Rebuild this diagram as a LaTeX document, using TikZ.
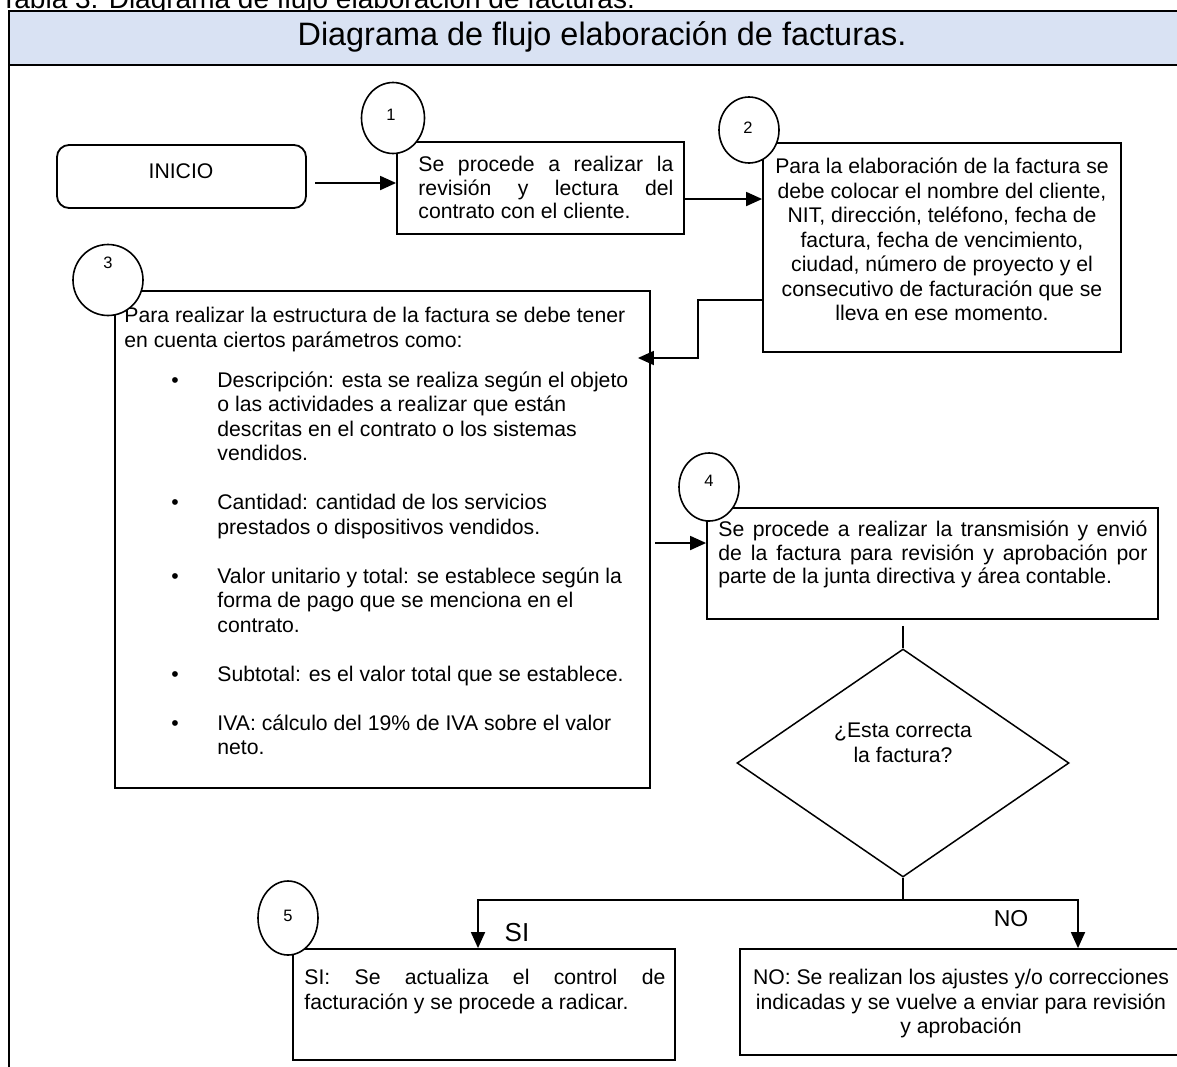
\documentclass[tikz,border=0pt]{standalone}
\usepackage{fontspec}
\setmainfont{Liberation Sans}
\usetikzlibrary{arrows.meta,shapes.geometric,calc,fit}

\newcommand\bodyfont{\fontsize{10.6}{12.25}\selectfont}
\newcommand\tightfont{\fontsize{10.6}{11.75}\selectfont}
\newcommand\jline[2]{\makebox[#1][s]{#2}}
\newcommand\itm{\hspace*{23.5pt}\makebox[23pt][l]{\textbullet}}
\newcommand\cont{\hspace*{46.5pt}}

\definecolor{headblue}{RGB}{217,226,243}

\begin{document}
\begin{tikzpicture}[x=0.5pt, y=-0.5pt,
  box/.style={draw, line width=0.9pt, inner sep=0pt},
  numcirc/.style={draw, ellipse, fill=white, line width=0.8pt, inner sep=0pt},
  numtxt/.style={inner sep=0pt, font=\fontsize{8.25}{10}\selectfont},
  arr/.style={line width=0.9pt, -{Triangle[length=8pt,width=7pt]}},
  conn/.style={line width=0.9pt},
  txt/.style={inner sep=0pt, anchor=north west, align=left, font=\bodyfont},
  ctxt/.style={inner sep=0pt, anchor=north, align=center, font=\bodyfont},
  frame/.style={line width=1.3pt}
]
\useasboundingbox (0,0) rectangle (1177,1066);
\clip (0,0) rectangle (1177,1066);

% caption and title band
\node[inner sep=0pt, anchor=base west, font=\fontsize{14}{16}\selectfont] (caption) at (0,8) {Tabla 3. Diagrama de flujo elaboración de facturas.};
\fill[headblue] (9,11) rectangle (1195,65);
\draw[frame] (9,1080) -- (9,11) -- (1195,11) -- (1195,1080);
\draw[frame] (9,65) -- (1195,65);
\node[inner sep=0pt, anchor=base, font=\fontsize{16.2}{19}\selectfont] (title) at (602,45) {Diagrama de flujo elaboración de facturas.};

% process boxes
\node[box, rounded corners=6pt, fit={(57,145) (306,208)}] (inicio) {};
\node[inner sep=0pt, font=\bodyfont] (tinicio) at (181,171) {INICIO};

\node[box, fit={(397,142) (684,234)}] (b1) {};
\node[txt, font=\tightfont] (t1) at (418,155) {\strut\jline{127.5pt}{Se procede a realizar la}\\
\jline{127.5pt}{revisión y lectura del}\\
contrato con el cliente.};

\node[box, fit={(763,143) (1121,352)}] (b2) {};
\node[ctxt] (t2) at (942,156) {\strut Para la elaboración de la factura se\\
debe colocar el nombre del cliente,\\
NIT, dirección, teléfono, fecha de\\
factura, fecha de vencimiento,\\
ciudad, número de proyecto y el\\
consecutivo de facturación que se\\
lleva en ese momento.};

\node[box, fit={(115,291) (650,788)}] (b3) {};
\node[txt] (t3) at (124,305) {\strut Para realizar la estructura de la factura se debe tener\\
en cuenta ciertos parámetros como:\\[7.75pt]
\itm Descripción: esta se realiza según el objeto\\
\cont o las actividades a realizar que están\\
\cont descritas en el contrato o los sistemas\\
\cont vendidos.\\[12.25pt]
\itm Cantidad: cantidad de los servicios\\
\cont prestados o dispositivos vendidos.\\[12.25pt]
\itm Valor unitario y total: se establece según la\\
\cont forma de pago que se menciona en el\\
\cont contrato.\\[12.25pt]
\itm Subtotal: es el valor total que se establece.\\[12.25pt]
\itm IVA: cálculo del 19\% de IVA sobre el valor\\
\cont neto.};

\node[box, fit={(707,508) (1158,619)}] (b4) {};
\node[txt, font=\tightfont] (t4) at (718,520) {\strut\jline{214.5pt}{Se procede a realizar la transmisión y envió}\\
\jline{214.5pt}{de la factura para revisión y aprobación por}\\
parte de la junta directiva y área contable.};

% decision
\node[draw, diamond, line width=0.75pt, inner sep=0pt, minimum width=166pt, minimum height=114pt] (dec) at (903,763) {};
\node[ctxt, font=\fontsize{10.6}{12.5}\selectfont] (tdec) at (903,720) {\strut ¿Esta correcta\\la factura?};

\node[box, fit={(293,949) (675,1060)}] (b5) {};
\node[txt] (t5) at (304,967) {\strut\jline{180.5pt}{SI: Se actualiza el control de}\\
facturación y se procede a radicar.};

\node[box, fit={(740,949) (1183,1055)}] (bno) {};
\node[ctxt] (tno) at (961,967) {\strut NO: Se realizan los ajustes y/o correcciones\\
indicadas y se vuelve a enviar para revisión\\
y aprobación};

% step numbers
\node[numcirc, minimum width=31.5pt, minimum height=35.5pt] (c1) at (393,118) {};
\node[numtxt] (n1) at (391,115) {1};
\node[numcirc, minimum width=30pt, minimum height=33pt] (c2) at (749,130) {};
\node[numtxt] (n2) at (748,128) {2};
\node[numcirc, minimum width=35pt, minimum height=35.5pt] (c3) at (108,280) {};
\node[numtxt] (n3) at (108,263) {3};
\node[numcirc, minimum width=30pt, minimum height=34pt] (c4) at (709,487) {};
\node[numtxt] (n4) at (709,481) {4};
\node[numcirc, minimum width=30pt, minimum height=37pt] (c5) at (288,918) {};
\node[numtxt] (n5) at (288,916) {5};

% connectors
\coordinate (a1s) at (315,183);
\draw[arr] (a1s) -- (a1s -| b1.west);
\draw[arr] (b1.east |- 0,199) -- (b2.west |- 0,199);
\coordinate (elb) at (698,358);
\draw[arr, shorten >=-6.5pt] (b2.west |- 0,300) -| (elb) -- (elb -| b3.east);
\coordinate (a4s) at (655,543);
\draw[arr] (a4s) -- (a4s -| b4.west);
\draw[conn] ($(b4.south -| dec.north)+(0,6)$) -- (dec.north);

\coordinate (jl) at (478,900);
\coordinate (jr) at (1078,900);
\draw[conn] (dec.south) -- (dec.south |- jl);
\draw[arr] (dec.south |- jl) -- (jl) -- (jl |- b5.north);
\draw[arr] (dec.south |- jr) -- (jr) -- (jr |- bno.north);
\node[inner sep=0pt, font=\fontsize{13}{15}\selectfont] (lsi) at (517,933) {SI};
\node[inner sep=0pt, font=\fontsize{11.5}{14}\selectfont] (lno) at (1011,919) {NO};
\end{tikzpicture}
\end{document}
